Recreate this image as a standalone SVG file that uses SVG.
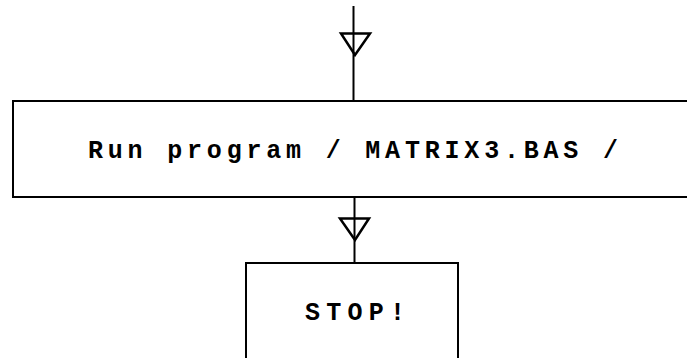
<svg xmlns="http://www.w3.org/2000/svg" width="687" height="358" viewBox="0 0 687 358">
  <style>
    .box { fill: #ffffff; stroke: #000000; stroke-width: 2; }
    .wire { fill: none; stroke: #000000; stroke-width: 2; }
    .head { fill: none; stroke: #000000; stroke-width: 2.5; stroke-linejoin: miter; }
    .label { font-family: "Liberation Mono", "DejaVu Sans Mono", monospace; font-size: 25px; font-weight: bold; fill: #000000; }
  </style>
  <rect width="687" height="358" fill="#ffffff"/>

  <!-- flow lines with open triangle markers -->
  <g id="connectors">
    <line class="wire" x1="353.5" y1="6" x2="353.5" y2="101"/>
    <polygon class="head" points="341,33.5 370,33.5 355,55"/>
    <line class="wire" x1="354.5" y1="197" x2="354.5" y2="263"/>
    <polygon class="head" points="340,218.5 369,218.5 355,240"/>
  </g>

  <g id="run-program">
    <rect class="box" x="13" y="101" width="700" height="96"/>
    <text class="label" x="88" y="158" textLength="530" lengthAdjust="spacing">Run program / MATRIX3.BAS /</text>
  </g>

  <g id="stop">
    <rect class="box" x="246" y="263" width="212" height="120"/>
    <text class="label" x="305" y="320" textLength="100" lengthAdjust="spacing">STOP!</text>
  </g>
</svg>
